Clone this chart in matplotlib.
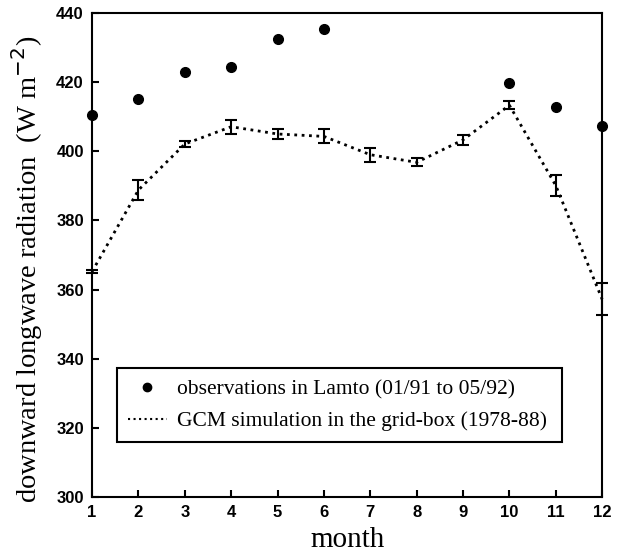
import matplotlib
matplotlib.use('Agg')
import matplotlib.pyplot as plt
from matplotlib.lines import Line2D

months = [1, 2, 3, 4, 5, 6, 7, 8, 9, 10, 11, 12]

# observations in Lamto (months with data)
obs_months = [1, 2, 3, 4, 5, 6, 10, 11, 12]
obs_values = [410.5, 415.1, 422.8, 424.5, 432.5, 435.4, 419.7, 412.9, 407.3]

# GCM simulation with error bars
gcm_values = [365.2, 388.8, 402.1, 407.1, 405.0, 404.3, 399.0, 396.8, 403.3, 413.3, 390.1, 357.2]
gcm_err = [0.5, 3.0, 1.0, 2.0, 1.5, 2.0, 2.0, 1.2, 1.5, 1.2, 3.0, 4.7]

obs_label = 'observations in Lamto (01/91 to 05/92)'
gcm_label = 'GCM simulation in the grid-box (1978-88)'

fig = plt.figure(figsize=(6.44, 5.57), dpi=100)
ax = fig.add_axes([0.143, 0.1077, 0.792, 0.869])

ax.errorbar(months, gcm_values, yerr=gcm_err, color='black', linestyle=':',
            linewidth=2, capsize=4, capthick=1.5, elinewidth=1.5, clip_on=False)
ax.plot(obs_months, obs_values, 'o', color='black', markersize=7, clip_on=False)

ax.set_xlim(1, 12)
ax.set_ylim(300, 440)
ax.set_xticks(months)
ax.set_yticks(range(300, 441, 20))
ax.tick_params(direction='in', length=5, width=1.5, labelsize=12, pad=6)
for lbl in ax.get_xticklabels() + ax.get_yticklabels():
    lbl.set_fontweight('bold')
    lbl.set_family('Liberation Sans')
for s in ax.spines.values():
    s.set_linewidth(1.5)

ax.set_xlabel('month', family='Liberation Serif', fontsize=21, labelpad=5)
ax.set_ylabel('downward longwave radiation  (W m$^{-2}$)', family='Liberation Serif',
              fontsize=20.5)
ax.yaxis.set_label_coords(-0.092, 0.47)

h_obs = Line2D([], [], marker='o', color='black', linestyle='none', markersize=6)
h_gcm = Line2D([], [], color='black', linestyle=':', linewidth=1.5)
leg = ax.legend([h_obs, h_gcm], [obs_label, gcm_label],
                loc='lower left', bbox_to_anchor=(0.049, 0.114, 0.873, 0.152),
                mode='expand', prop={'family': 'Liberation Serif', 'size': 15.5},
                fancybox=False, edgecolor='black', framealpha=1,
                handlelength=1.8, handletextpad=0.5, borderpad=0.5,
                labelspacing=0.55, borderaxespad=0)
leg.get_frame().set_linewidth(1.5)

plt.savefig('out.png', dpi=100)
